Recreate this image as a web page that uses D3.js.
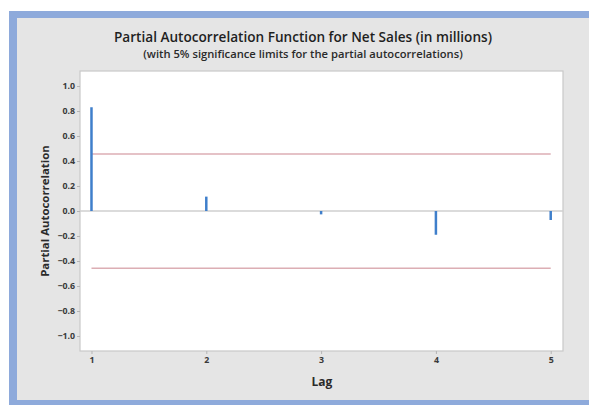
<!DOCTYPE html>
<html>
<head>
<meta charset="utf-8">
<script src="https://cdn.jsdelivr.net/npm/d3@7"></script>
<style>
  html, body { margin: 0; padding: 0; background: #ffffff; }
  svg { display: block; }
  text { font-family: "Open Sans", Lato, sans-serif; }
</style>
</head>
<body>
<svg id="chart" width="589" height="405"></svg>
<script>
// Partial autocorrelation by lag
const lags = [1, 2, 3, 4, 5];
const pacf = [0.83, 0.115, -0.027, -0.19, -0.072];
// 5% significance limit (±)
const sigLimit = 0.457;
const yTicks = [-1.0, -0.8, -0.6, -0.4, -0.2, 0.0, 0.2, 0.4, 0.6, 0.8, 1.0];

const titleText = "Partial Autocorrelation Function for Net Sales (in millions)";
const subtitleText = "(with 5% significance limits for the partial autocorrelations)";

const svg = d3.select("#chart");
const W = 589, H = 405;

// outer window frame
svg.append("rect").attr("x", 9).attr("y", 11).attr("width", W - 9).attr("height", H - 11)
  .attr("fill", "#8eaadb");
svg.append("rect").attr("x", 17).attr("y", 18).attr("width", W - 17).attr("height", 382)
  .attr("fill", "#e5e5e5");

const plot = { left: 80, top: 71, right: 563, bottom: 351 };

const x = d3.scaleLinear().domain([0.9, 5.107]).range([plot.left, plot.right]);
const y = d3.scaleLinear().domain([-1.12, 1.12]).range([plot.bottom, plot.top]);

// plot area
svg.append("rect")
  .attr("x", plot.left).attr("y", plot.top)
  .attr("width", plot.right - plot.left).attr("height", plot.bottom - plot.top)
  .attr("fill", "#ffffff").attr("stroke", "#c9c9c9").attr("stroke-width", 1.2);

// axes
const yAxis = d3.axisLeft(y).tickValues(yTicks).tickFormat(d3.format(".1f")).tickSize(3).tickPadding(2);
const xAxis = d3.axisBottom(x).tickValues(lags).tickFormat(d3.format("d")).tickSize(3).tickPadding(3);

const gy = svg.append("g").attr("transform", `translate(${plot.left},0)`).call(yAxis);
const gx = svg.append("g").attr("transform", `translate(0,${plot.bottom})`).call(xAxis);
[gx, gy].forEach(g => {
  g.select(".domain").remove();
  g.selectAll(".tick line").attr("stroke", "#b5b5b5");
  g.selectAll(".tick text").attr("fill", "#3a3a3a").attr("font-size", 8.8).attr("font-weight", 700);
});

// zero reference line
svg.append("line")
  .attr("x1", plot.left).attr("x2", plot.right)
  .attr("y1", y(0)).attr("y2", y(0))
  .attr("stroke", "#cfcfcf").attr("stroke-width", 1.5);

// significance limits
[sigLimit, -sigLimit].forEach(v => {
  svg.append("line")
    .attr("x1", x(lags[0])).attr("x2", x(lags[lags.length - 1]))
    .attr("y1", y(v)).attr("y2", y(v))
    .attr("stroke", "#dcaeb4").attr("stroke-width", 1.5);
});

// PACF spikes
svg.append("g").selectAll("line")
  .data(lags.map((l, i) => ({ lag: l, v: pacf[i] })))
  .join("line")
  .attr("x1", d => x(d.lag)).attr("x2", d => x(d.lag))
  .attr("y1", y(0)).attr("y2", d => y(d.v))
  .attr("stroke", "#3f7fcb").attr("stroke-width", 2.5);

// titles
svg.append("text").attr("x", 303).attr("y", 42).attr("text-anchor", "middle")
  .attr("font-size", 13.6).attr("font-weight", 600).attr("fill", "#1f1f1f").text(titleText);
svg.append("text").attr("x", 303).attr("y", 58).attr("text-anchor", "middle")
  .attr("font-size", 11.2).attr("font-weight", 600).attr("fill", "#2a2a2a").text(subtitleText);

// axis titles
svg.append("text").attr("x", 322).attr("y", 386).attr("text-anchor", "middle")
  .attr("font-size", 12).attr("font-weight", 700).attr("fill", "#2a2a2a").text("Lag");
svg.append("text").attr("transform", `translate(49,${y(0)}) rotate(-90)`).attr("text-anchor", "middle")
  .attr("font-size", 11.4).attr("font-weight", 700).attr("fill", "#2a2a2a").text("Partial Autocorrelation");
</script>
</body>
</html>
